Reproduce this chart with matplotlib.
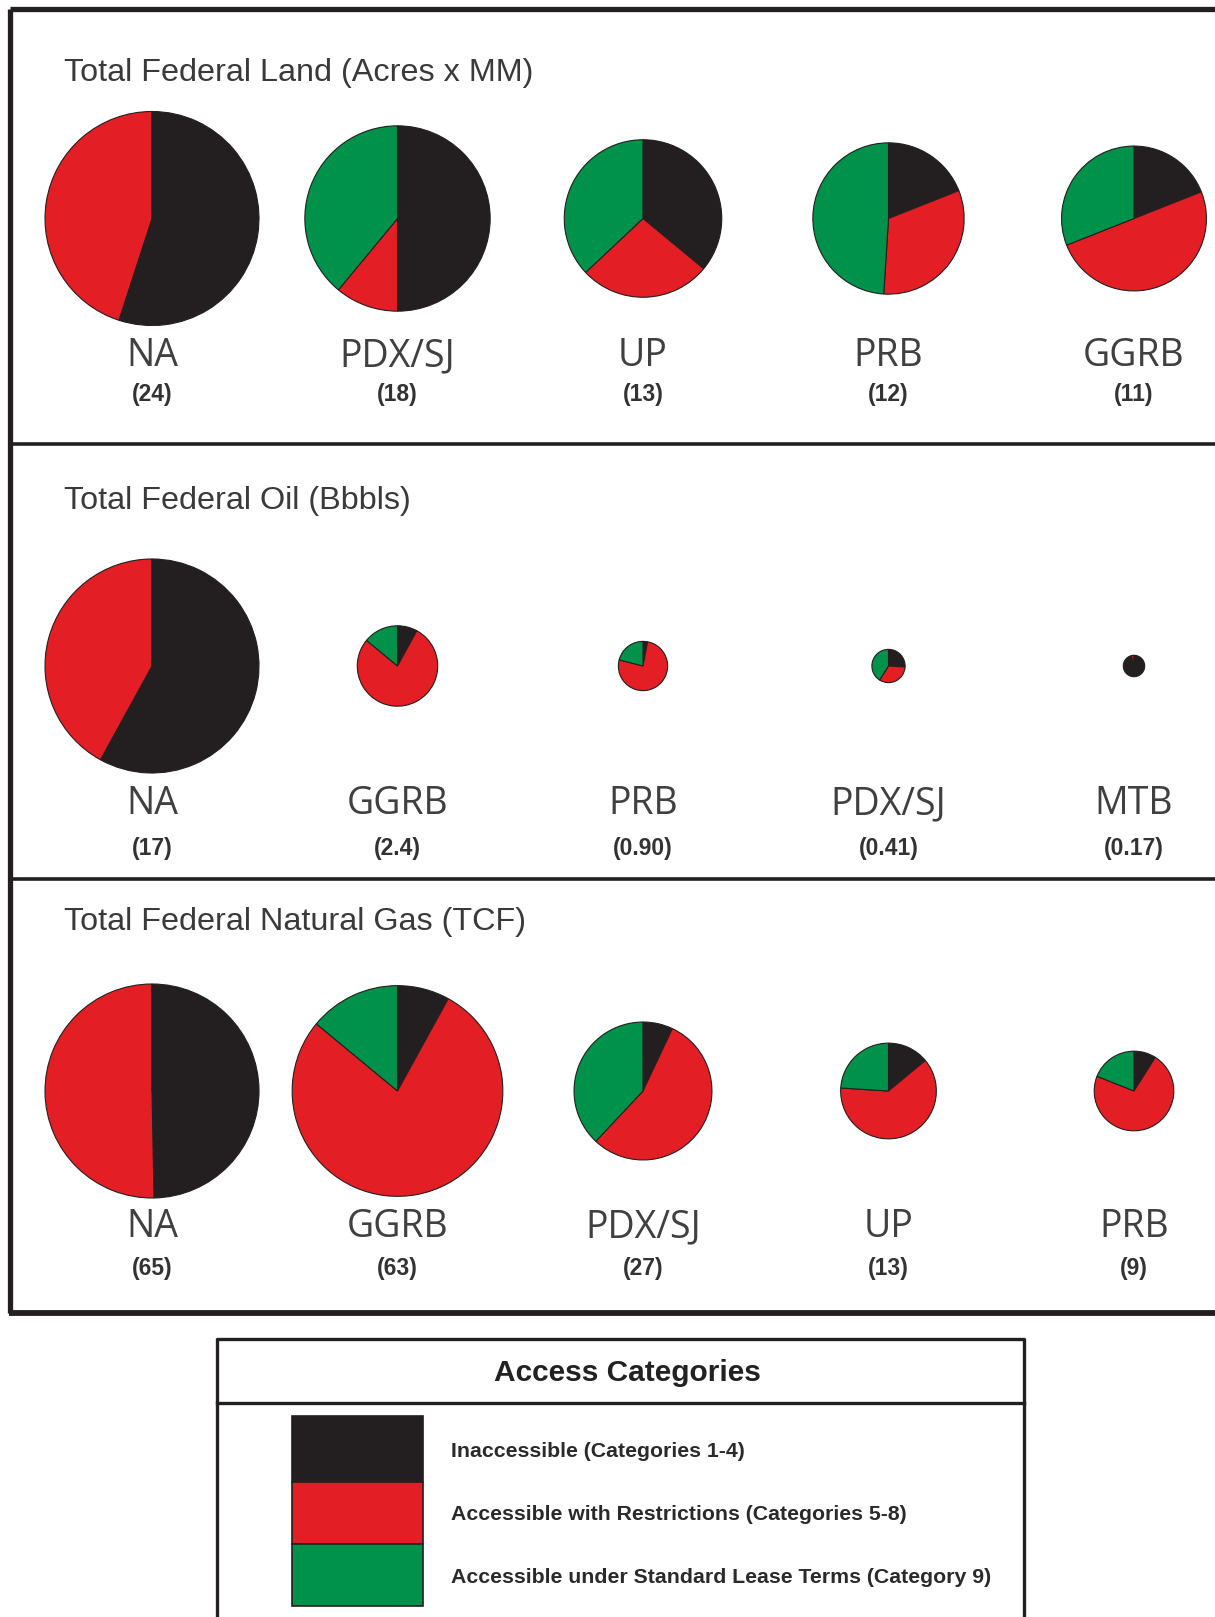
import matplotlib
matplotlib.use("Agg")
import matplotlib.pyplot as plt
from matplotlib.patches import Rectangle
import numpy as np

W, H = 1215, 1617

# colours for the three access categories
cat_colors = ['#231f20', '#e31e24', '#00914a']
cat_labels = ['Inaccessible (Categories 1-4)',
              'Accessible with Restrictions (Categories 5-8)',
              'Accessible under Standard Lease Terms (Category 9)']

# --- land ---
land_title = 'Total Federal Land (Acres x MM)'
land_names = ['NA', 'PDX/SJ', 'UP', 'PRB', 'GGRB']
land_totals = [24, 18, 13, 12, 11]
land_text = ['(24)', '(18)', '(13)', '(12)', '(11)']
land_inacc = [0.55, 0.50, 0.36, 0.19, 0.19]
land_restr = [0.45, 0.11, 0.27, 0.32, 0.50]
land_std = [0.00, 0.39, 0.37, 0.49, 0.31]

# --- oil ---
oil_title = 'Total Federal Oil (Bbbls)'
oil_names = ['NA', 'GGRB', 'PRB', 'PDX/SJ', 'MTB']
oil_totals = [17, 2.4, 0.90, 0.41, 0.17]
oil_text = ['(17)', '(2.4)', '(0.90)', '(0.41)', '(0.17)']
oil_inacc = [0.58, 0.08, 0.03, 0.26, 0.96]
oil_restr = [0.42, 0.78, 0.76, 0.33, 0.04]
oil_std = [0.00, 0.14, 0.21, 0.41, 0.00]

# --- gas ---
gas_title = 'Total Federal Natural Gas (TCF)'
gas_names = ['NA', 'GGRB', 'PDX/SJ', 'UP', 'PRB']
gas_totals = [65, 63, 27, 13, 9]
gas_text = ['(65)', '(63)', '(27)', '(13)', '(9)']
gas_inacc = [0.497, 0.08, 0.07, 0.14, 0.09]
gas_restr = [0.503, 0.78, 0.55, 0.62, 0.72]
gas_std = [0.00, 0.14, 0.38, 0.24, 0.19]

rows = [
    (land_title, land_names, land_totals, land_text, land_inacc, land_restr, land_std),
    (oil_title, oil_names, oil_totals, oil_text, oil_inacc, oil_restr, oil_std),
    (gas_title, gas_names, gas_totals, gas_text, gas_inacc, gas_restr, gas_std),
]

# layout in pixels (top-down)
col_x = [152 + 245.5 * i for i in range(5)]
title_y = [73, 501, 922]
pie_y = [218.5, 666, 1091]
name_y = [356, 804, 1227]
val_y = [395, 848, 1268]
R_MAX = 107

fig = plt.figure(figsize=(W / 100, H / 100), dpi=100)
ax = fig.add_axes([0, 0, 1, 1])

def Y(y):
    return H - y

for k, (title, names, totals, texts, inacc, restr, std) in enumerate(rows):
    ax.text(64, Y(title_y[k]), title, fontsize=23.3, family='Liberation Sans',
            color='#3a3a3a', ha='left', va='center')
    vmax = max(totals)
    for i in range(len(names)):
        r = R_MAX * np.sqrt(totals[i] / vmax)
        ax.pie([inacc[i], restr[i], std[i]], colors=cat_colors, startangle=90,
               counterclock=False, center=(col_x[i], Y(pie_y[k])), radius=r,
               wedgeprops=dict(edgecolor='#231f20', linewidth=0.8))
        ax.text(col_x[i], Y(name_y[k]), names[i], fontsize=27, family='Open Sans',
                color='#404040', ha='center', va='center')
        ax.text(col_x[i], Y(val_y[k]), texts[i], fontsize=16.5, family='Liberation Sans',
                fontweight='bold', color='#333333', ha='center', va='center')

# outer frame and row separators
lc = '#231f20'
ax.plot([10, W], [Y(9.5), Y(9.5)], color=lc, lw=3.8, solid_capstyle='butt')
ax.plot([10, 10], [Y(9.5), Y(1313)], color=lc, lw=3.8, solid_capstyle='butt')
ax.plot([8.6, W], [Y(1313), Y(1313)], color=lc, lw=4.2, solid_capstyle='butt')
for sy in [444.5, 879]:
    ax.plot([10, W], [Y(sy), Y(sy)], color=lc, lw=2.6, solid_capstyle='butt')

# legend box
lx0, lx1, ly0, ly1 = 216.5, 1024, 1339, 1617
ax.plot([lx0, lx0, lx1, lx1], [Y(ly1), Y(ly0), Y(ly0), Y(ly1)], color=lc, lw=2.4)
ax.plot([lx0, lx1], [Y(1403), Y(1403)], color=lc, lw=2.4)
ax.text(627, Y(1373), 'Access Categories', fontsize=21.5,
        family='Liberation Sans', fontweight='bold', color='#222222',
        ha='center', va='center')
sw_top = [1416, 1482, 1544]
sw_bot = [1482, 1544, 1606]
txt_y = [1451, 1514, 1577]
for c in range(3):
    ax.add_patch(Rectangle((292, Y(sw_bot[c])), 131, sw_bot[c] - sw_top[c],
                           facecolor=cat_colors[c], edgecolor='#231f20', lw=1.2))
    ax.text(451, Y(txt_y[c]), cat_labels[c], fontsize=15.3, family='Liberation Sans',
            fontweight='bold', color='#2a2a2a', ha='left', va='center')

ax.set_xlim(0, W)
ax.set_ylim(0, H)
ax.set_aspect('auto')
ax.axis('off')

fig.savefig('out.png', dpi=100)
